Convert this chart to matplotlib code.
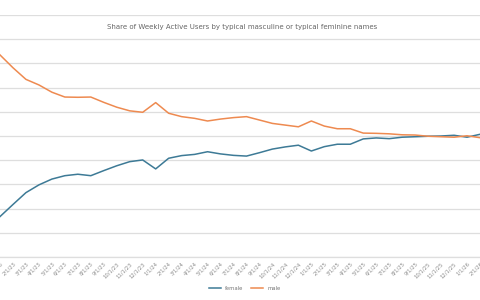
import matplotlib
matplotlib.use('Agg')
import matplotlib.pyplot as plt

# monthly data, 1/1/23 .. 2/1/26 (share of WAU, %)
months = ['1/1/23', '2/1/23', '3/1/23', '4/1/23', '5/1/23', '6/1/23', '7/1/23', '8/1/23',
          '9/1/23', '10/1/23', '11/1/23', '12/1/23', '1/1/24', '2/1/24', '3/1/24', '4/1/24',
          '5/1/24', '6/1/24', '7/1/24', '8/1/24', '9/1/24', '10/1/24', '11/1/24', '12/1/24',
          '1/1/25', '2/1/25', '3/1/25', '4/1/25', '5/1/25', '6/1/25', '7/1/25', '8/1/25',
          '9/1/25', '10/1/25', '11/1/25', '12/1/25', '1/1/26', '2/1/26']

female = [16.7, 21.7, 26.6, 29.8, 32.2, 33.6, 34.2, 33.6, 35.7, 37.7, 39.4, 40.1, 36.4,
          40.8, 41.9, 42.4, 43.5, 42.6, 42.0, 41.7, 43.1, 44.6, 45.5, 46.2, 43.8, 45.6,
          46.6, 46.6, 48.8, 49.2, 48.9, 49.5, 49.7, 49.9, 50.0, 50.3, 49.5, 50.7]

male = [83.5, 78.2, 73.4, 71.1, 68.1, 66.1, 66.0, 66.1, 63.9, 61.9, 60.4, 59.8, 63.8,
        59.4, 58.0, 57.3, 56.2, 57.0, 57.6, 58.0, 56.6, 55.2, 54.5, 53.8, 56.2, 54.1,
        53.0, 53.0, 51.2, 51.1, 50.9, 50.5, 50.4, 49.9, 49.7, 49.5, 50.1, 49.3]

x = list(range(len(months)))

fig = plt.figure(figsize=(4.8, 3.0), dpi=100)
ax = fig.add_axes([0, 43 / 300, 1, 242 / 300])

ax.plot(x, female, color='#3d7a96', lw=1.1, label='female')
ax.plot(x, male, color='#ee8a50', lw=1.1, label='male')

ax.set_xlim(0.5, 37.0)
ax.set_ylim(0, 100)
ax.set_yticks(range(0, 101, 10))
ax.yaxis.grid(True, color='#dedede', lw=0.9)
ax.set_axisbelow(True)
ax.tick_params(axis='y', left=False, labelleft=False)
for s in ['left', 'right', 'top']:
    ax.spines[s].set_visible(False)
ax.spines['bottom'].set_color('#dedede')
ax.spines['bottom'].set_linewidth(0.9)

ax.set_xticks(x)
ax.set_xticklabels(months, rotation=45, ha='right', rotation_mode='anchor',
                   fontsize=3.8, color='#8c8c8c')
ax.tick_params(axis='x', length=0, pad=3)

fig.text(0.505, 0.91, 'Share of Weekly Active Users by typical masculine or typical feminine names',
         ha='center', va='center', fontsize=5, color='#666666')

fig.legend(loc='center', bbox_to_anchor=(0.51, 0.04), ncol=2, frameon=False,
           fontsize=3.8, handlelength=2.2, columnspacing=1.5, labelcolor='#777777')

fig.savefig('out.png', dpi=100)
